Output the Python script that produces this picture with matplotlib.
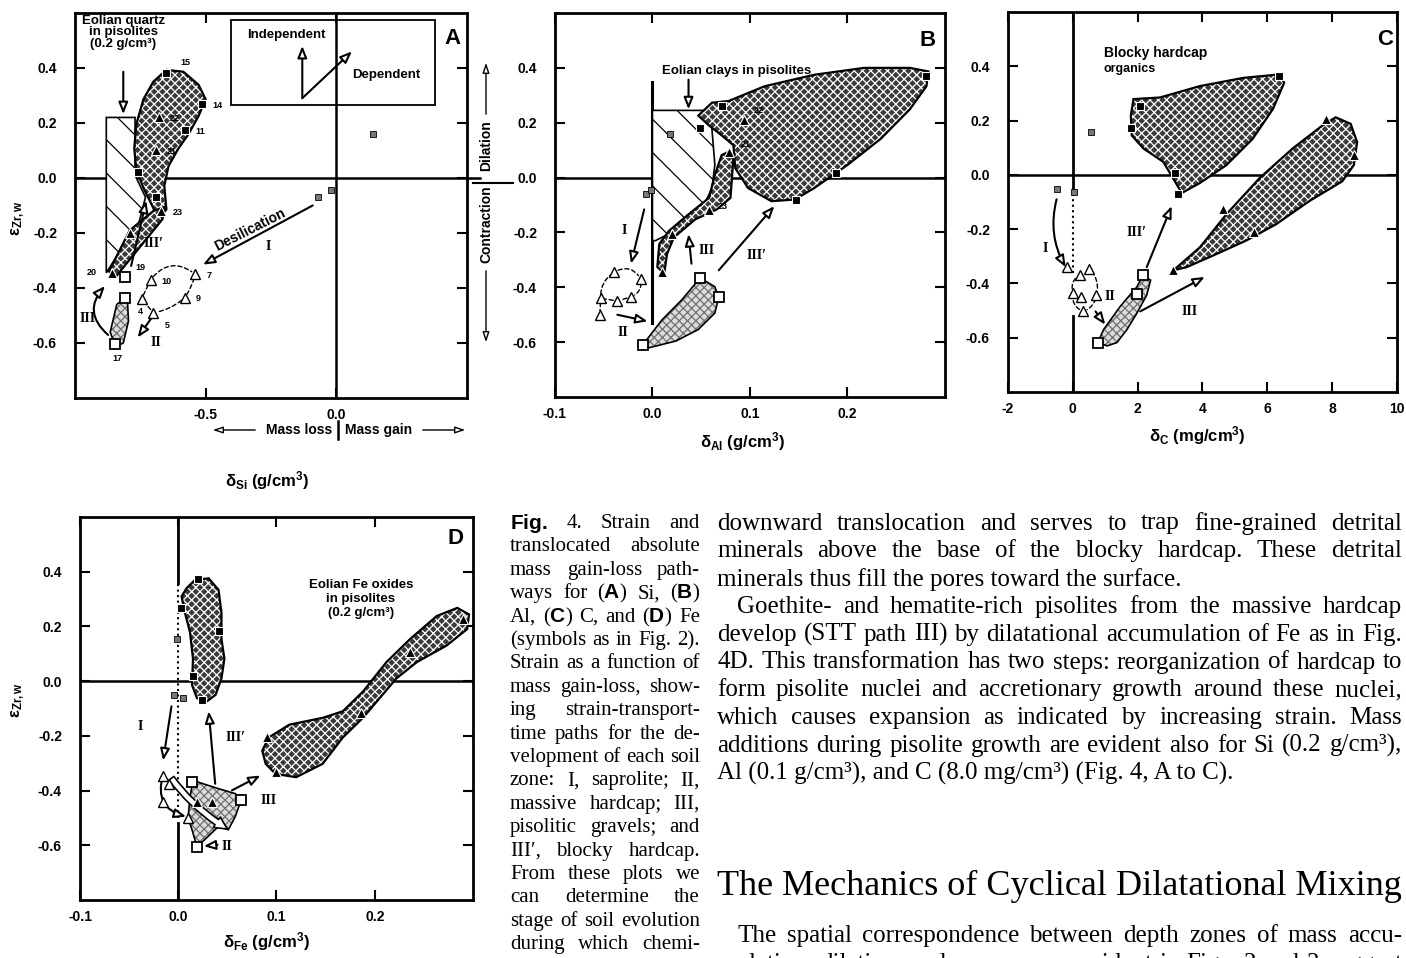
import matplotlib.pyplot as plt
from matplotlib.patches import Polygon, Rectangle

plt.rcParams['font.family'] = ['Liberation Sans', 'DejaVu Sans']
plt.rcParams['mathtext.fontset'] = 'custom'
plt.rcParams['mathtext.rm'] = 'Liberation Sans:bold'
plt.rcParams['mathtext.it'] = 'Liberation Sans:bold'
plt.rcParams['mathtext.bf'] = 'Liberation Sans:bold'
plt.rcParams['hatch.linewidth'] = 0.9

W, H = 1406, 958

# ---------------- panel A : Si ----------------
a_sqf_x = [-0.65, -0.515, -0.58, -0.76, -0.69]
a_sqf_y = [0.38, 0.27, 0.175, 0.02, -0.07]
a_sqf_lab = ['15', '14', '11', '', '']
a_sqs_x = [0.14, -0.07, -0.02]
a_sqs_y = [0.16, -0.07, -0.045]
a_trf_x = [-0.68, -0.69, -0.67, -0.79, -0.86]
a_trf_y = [0.22, 0.10, -0.12, -0.20, -0.345]
a_trf_lab = ['22', '21', '23', '', '20']
a_sqo_x = [-0.81, -0.81, -0.845]
a_sqo_y = [-0.36, -0.435, -0.605]
a_sqo_lab = ['19', '', '17']
a_tro_x = [-0.71, -0.54, -0.58, -0.70, -0.745]
a_tro_y = [-0.37, -0.35, -0.435, -0.49, -0.44]
a_tro_lab = ['10', '7', '9', '5', '4']

a_dark = [(-0.65, 0.393), (-0.585, 0.386), (-0.527, 0.339), (-0.50, 0.286), (-0.527, 0.225),
          (-0.565, 0.16), (-0.604, 0.107), (-0.642, 0.043), (-0.658, -0.029), (-0.65, -0.114),
          (-0.68, -0.15), (-0.71, -0.09), (-0.738, -0.036), (-0.765, 0.029), (-0.773, 0.107),
          (-0.765, 0.196), (-0.738, 0.286), (-0.70, 0.35)]
a_strip = [(-0.655, -0.105), (-0.665, -0.15), (-0.84, -0.355), (-0.87, -0.34), (-0.79, -0.19), (-0.70, -0.12)]
a_light = [(-0.80, -0.43), (-0.795, -0.52), (-0.815, -0.60), (-0.845, -0.615), (-0.865, -0.56), (-0.84, -0.46)]
a_hatch = [(-0.88, 0.22), (-0.77, 0.22), (-0.77, 0.01), (-0.73, -0.07), (-0.76, -0.18), (-0.85, -0.30), (-0.88, -0.345)]

# arrows: x0, y0, x1, y1, rad
a_arrows = [(-0.09, -0.10, -0.51, -0.315, 0), (-0.70, -0.50, -0.76, -0.58, 0),
            (-0.873, -0.571, -0.885, -0.393, -0.5), (-0.785, -0.32, -0.727, -0.083, 0),
            (-0.815, 0.386, -0.815, 0.232, 0), (-0.13, 0.29, -0.13, 0.48, 0), (-0.13, 0.29, 0.06, 0.46, 0)]
a_loop = [(-0.71, -0.37, -0.54, -0.35, -0.5), (-0.54, -0.35, -0.58, -0.435, -0.1),
          (-0.58, -0.435, -0.70, -0.49, -0.15), (-0.70, -0.49, -0.745, -0.44, 0), (-0.745, -0.44, -0.71, -0.37, 0)]

# ---------------- panel B : Al ----------------
b_sqf_x = [0.281, 0.071, 0.049, 0.188, 0.147]
b_sqf_y = [0.37, 0.26, 0.18, 0.016, -0.08]
b_sqs_x = [0.018, -0.007, -0.002]
b_sqs_y = [0.16, -0.06, -0.045]
b_trf_x = [0.094, 0.079, 0.058, 0.02, 0.01]
b_trf_y = [0.21, 0.094, -0.12, -0.205, -0.345]
b_trf_lab = ['22', '21', '23', '', '']
b_tro_x = [-0.039, -0.012, -0.053, -0.036, -0.022, -0.054]
b_tro_y = [-0.345, -0.37, -0.44, -0.45, -0.435, -0.50]
b_sqo_x = [0.049, 0.068, -0.01]
b_sqo_y = [-0.366, -0.436, -0.61]

b_hatch = [(0.0, 0.245), (0.076, 0.245), (0.060, 0.22), (0.064, 0.047), (0.061, -0.04),
           (0.048, -0.133), (0.017, -0.205), (0.003, -0.23), (0.0, -0.23)]
b_dark = [(0.078, 0.279), (0.115, 0.333), (0.166, 0.375), (0.217, 0.40), (0.264, 0.40), (0.283, 0.387),
          (0.281, 0.333), (0.264, 0.249), (0.234, 0.141), (0.200, 0.046), (0.166, -0.038), (0.146, -0.080),
          (0.122, -0.086), (0.098, -0.038), (0.085, 0.034), (0.083, 0.118), (0.071, 0.154), (0.058, 0.19),
          (0.047, 0.226), (0.061, 0.273)]
b_strip = [(0.078, 0.094), (0.083, 0.069), (0.080, -0.074), (0.066, -0.116), (0.044, -0.152), (0.022, -0.218),
           (0.015, -0.278), (0.012, -0.35), (0.005, -0.326), (0.007, -0.242), (0.017, -0.194), (0.037, -0.134),
           (0.058, -0.074), (0.064, 0.01), (0.071, 0.082)]
b_light = [(-0.010, -0.61), (0.010, -0.518), (0.030, -0.446), (0.049, -0.366), (0.064, -0.398), (0.068, -0.436),
           (0.064, -0.494), (0.047, -0.554), (0.024, -0.596), (-0.003, -0.62)]
b_arrows = [(-0.0085, -0.116, -0.022, -0.314, 0), (-0.036, -0.50, -0.005, -0.524, 0),
            (0.040, -0.314, 0.037, -0.206, 0), (0.068, -0.338, 0.125, -0.104, 0), (0.037, 0.357, 0.037, 0.249, 0)]
b_loop = [(-0.039, -0.345, -0.012, -0.37, -0.5), (-0.012, -0.37, -0.022, -0.435, -0.4),
          (-0.022, -0.435, -0.036, -0.45, 0), (-0.036, -0.45, -0.053, -0.44, 0),
          (-0.053, -0.44, -0.039, -0.345, -0.3), (-0.053, -0.44, -0.054, -0.50, 0)]

# ---------------- panel C : C ----------------
c_sqf_x = [6.37, 2.08, 1.79, 3.15, 3.25]
c_sqf_y = [0.364, 0.255, 0.172, 0.006, -0.07]
c_sqs_x = [0.57, -0.5, 0.03]
c_sqs_y = [0.157, -0.052, -0.063]
c_trf_x = [7.8, 8.67, 4.63, 5.6, 3.1]
c_trf_y = [0.206, 0.073, -0.127, -0.212, -0.352]
c_tro_x = [-0.19, 0.21, 0.49, 0.01, 0.24, 0.73, 0.32]
c_tro_y = [-0.34, -0.37, -0.345, -0.434, -0.449, -0.442, -0.503]
c_sqo_x = [2.16, 1.99, 0.77]
c_sqo_y = [-0.37, -0.44, -0.618]

c_dark1 = [(1.87, 0.279), (2.69, 0.285), (3.92, 0.327), (5.25, 0.357), (6.37, 0.370), (6.52, 0.339),
           (6.17, 0.242), (5.55, 0.133), (4.74, 0.036), (3.92, -0.03), (3.36, -0.067), (3.15, -0.024),
           (2.79, 0.048), (2.18, 0.097), (1.82, 0.145), (1.79, 0.218)]
c_dark2 = [(3.10, -0.352), (3.92, -0.267), (4.74, -0.145), (5.76, -0.012), (6.78, 0.097), (7.70, 0.182),
           (8.11, 0.212), (8.57, 0.188), (8.77, 0.121), (8.67, 0.036), (8.31, -0.024), (7.29, -0.097),
           (6.27, -0.182), (5.35, -0.242), (4.33, -0.297), (3.51, -0.34)]
c_light = [(0.77, -0.618), (0.95, -0.57), (1.46, -0.485), (1.98, -0.412), (2.16, -0.37), (2.40, -0.388),
           (2.28, -0.443), (1.98, -0.509), (1.67, -0.57), (1.36, -0.618), (1.06, -0.63)]
c_arrows = [(-0.5, -0.09, -0.22, -0.34, 0.2), (0.70, -0.503, 1.0, -0.552, 0),
            (2.08, -0.503, 4.07, -0.376, 0), (2.28, -0.34, 3.05, -0.115, 0)]
c_loop = [(0.49, -0.345, 0.73, -0.442, -0.3), (0.73, -0.442, 0.32, -0.503, -0.3),
          (0.32, -0.503, 0.01, -0.434, -0.4), (0.01, -0.434, 0.21, -0.37, -0.4)]

# ---------------- panel D : Fe ----------------
d_sqf_x = [0.020, 0.0024, 0.041, 0.015, 0.024]
d_sqf_y = [0.372, 0.268, 0.184, 0.019, -0.068]
d_sqs_x = [-0.001, -0.004, 0.005]
d_sqs_y = [0.154, -0.05, -0.062]
d_trf_x = [0.29, 0.236, 0.186, 0.0905, 0.099, 0.0188, 0.034]
d_trf_y = [0.226, 0.106, -0.116, -0.204, -0.333, -0.44, -0.44]
d_tro_x = [-0.0157, -0.009, -0.016, 0.010]
d_tro_y = [-0.345, -0.375, -0.44, -0.50]
d_sqo_x = [0.0137, 0.064, 0.0188]
d_sqo_y = [-0.369, -0.435, -0.605]

d_dark1 = [(0.0085, 0.340), (0.017, 0.370), (0.031, 0.376), (0.041, 0.334), (0.044, 0.250), (0.044, 0.154),
           (0.047, 0.082), (0.044, 0.010), (0.038, -0.050), (0.029, -0.074), (0.019, -0.062), (0.014, -0.014),
           (0.015, 0.082), (0.012, 0.178), (0.006, 0.262), (0.0034, 0.310)]
d_dark2 = [(0.0855, -0.254), (0.092, -0.206), (0.113, -0.159), (0.147, -0.134), (0.1675, -0.110),
           (0.188, -0.038), (0.212, 0.070), (0.236, 0.154), (0.263, 0.238), (0.284, 0.268), (0.296, 0.244),
           (0.294, 0.190), (0.273, 0.130), (0.243, 0.070), (0.222, 0.010), (0.205, -0.062), (0.188, -0.134),
           (0.1675, -0.206), (0.147, -0.302), (0.120, -0.351), (0.099, -0.339), (0.089, -0.302)]
d_light = [(0.015, -0.363), (0.041, -0.393), (0.058, -0.411), (0.064, -0.435), (0.058, -0.495), (0.051, -0.543),
           (0.041, -0.531), (0.027, -0.579), (0.019, -0.605), (0.014, -0.543), (0.010, -0.50), (0.012, -0.423)]
d_arrows = [(-0.0069, -0.092, -0.0154, -0.29, 0), (0.0376, -0.375, 0.031, -0.11, 0),
            (0.0547, -0.399, 0.0837, -0.345, 0), (0.040, -0.598, 0.026, -0.603, 0),
            (-0.0157, -0.345, 0.008, -0.495, 0.5)]

caption = ["$\\mathbf{Fig.}$ 4. Strain and", "translocated absolute", "mass gain-loss path-",
           "ways for ($\\mathbf{A}$) Si, ($\\mathbf{B}$)", "Al, ($\\mathbf{C}$) C, and ($\\mathbf{D}$) Fe",
           "(symbols as in Fig. 2).", "Strain as a function of", "mass gain-loss, show-",
           "ing strain-transport-", "time paths for the de-", "velopment of each soil",
           "zone: I, saprolite; II,", "massive hardcap; III,", "pisolitic gravels; and",
           "III\u2032, blocky hardcap.", "From these plots we", "can determine the",
           "stage of soil evolution", "during which chemi-"]
body1 = ["downward translocation and serves to trap fine-grained detrital",
         "minerals above the base of the blocky hardcap. These detrital",
         "minerals thus fill the pores toward the surface.",
         "Goethite- and hematite-rich pisolites from the massive hardcap",
         "develop (STT path III) by dilatational accumulation of Fe as in Fig.",
         "4D. This transformation has two steps: reorganization of hardcap to",
         "form pisolite nuclei and accretionary growth around these nuclei,",
         "which causes expansion as indicated by increasing strain. Mass",
         "additions during pisolite growth are evident also for Si (0.2 g/cm\u00b3),",
         "Al (0.1 g/cm\u00b3), and C (8.0 mg/cm\u00b3) (Fig. 4, A to C)."]
body1_just = [1, 1, 0, 1, 1, 1, 1, 1, 1, 0]
body1_indent = [0, 0, 0, 1, 0, 0, 0, 0, 0, 0]
heading = "The Mechanics of Cyclical Dilatational Mixing"
body2 = ["The spatial correspondence between depth zones of mass accu-",
         "mulation, dilation, and macropores evident in Figs. 2 and 3 suggest"]


fig = plt.figure(figsize=(W / 100, H / 100), dpi=100)
rend = fig.canvas.get_renderer()
SERIF = ['Liberation Serif', 'DejaVu Serif']


def px(x, y):
    return x / W, 1 - y / H


def setup(ax, xlim, xt, xtl):
    ax.set_xlim(xlim)
    ax.set_ylim(-0.8, 0.6)
    ax.set_xticks(xt)
    ax.set_xticklabels(xtl)
    ax.set_yticks([-0.6, -0.4, -0.2, 0.0, 0.2, 0.4])
    ax.set_yticklabels(['-0.6', '-0.4', '-0.2', '0.0', '0.2', '0.4'])
    ax.tick_params(direction='in', length=7, width=1.5, top=True, right=True, labelsize=10)
    ax.tick_params(axis='y', pad=13)
    ax.tick_params(axis='x', pad=7)
    for lab in ax.get_xticklabels() + ax.get_yticklabels():
        lab.set_fontweight('bold')
    for sp in ax.spines.values():
        sp.set_linewidth(2)
    ax.axhline(0, color='k', lw=1.8, zorder=1)


def shade(ax, xy, kind):
    if kind == 'dark':
        ax.add_patch(Polygon(xy, closed=True, fc='#3a3a3a', ec='white', hatch='xxxx', lw=0, zorder=2))
        ax.add_patch(Polygon(xy, closed=True, fill=False, ec='black', lw=1.6, zorder=2))
    elif kind == 'light':
        ax.add_patch(Polygon(xy, closed=True, fc='#dcdcdc', ec='#707070', hatch='xxxx', lw=0, zorder=2))
        ax.add_patch(Polygon(xy, closed=True, fill=False, ec='black', lw=1.2, zorder=2))
    else:
        ax.add_patch(Polygon(xy, closed=True, fc='white', ec='black', hatch='\\', lw=1.2, zorder=1.5))


def marks(ax, xs, ys, kind, labs=None, offs=None):
    st = {'sqf': dict(marker='s', mfc='black', mec='white', ms=6, mew=0.8),
          'sqs': dict(marker='s', mfc='#777777', mec='black', ms=4, mew=0.6),
          'trf': dict(marker='^', mfc='black', mec='white', ms=7, mew=0.8),
          'tro': dict(marker='^', mfc='white', mec='black', ms=6.5, mew=1.0),
          'sqo': dict(marker='s', mfc='white', mec='black', ms=6.5, mew=1.3)}[kind]
    ax.plot(xs, ys, ls='none', zorder=5, **st)
    if labs:
        for x, y, lab in zip(xs, ys, labs):
            if lab:
                off = (offs or {}).get(lab, (8, -1))
                ax.annotate(lab, (x, y), xytext=off, textcoords='offset points', fontsize=6.5,
                            fontweight='bold', ha='left', va='center', zorder=6)


def arrows(ax, lst, lw=1.5):
    for x0, y0, x1, y1, rad in lst:
        ax.annotate('', xy=(x1, y1), xytext=(x0, y0),
                    arrowprops=dict(arrowstyle='-|>,head_length=0.7,head_width=0.28', fc='white', ec='black',
                                    lw=lw, shrinkA=0, shrinkB=0, connectionstyle='arc3,rad=%s' % rad),
                    zorder=4)


def loop(ax, lst):
    for x0, y0, x1, y1, rad in lst:
        ax.annotate('', xy=(x1, y1), xytext=(x0, y0),
                    arrowprops=dict(arrowstyle='-', ec='black', lw=1.0, ls=(0, (3, 2)), shrinkA=3, shrinkB=3,
                                    connectionstyle='arc3,rad=%s' % rad), zorder=4)


def roman(ax, x, y, s):
    ax.text(x, y, s, family=SERIF, fontweight='bold', fontsize=10, ha='center', va='center', zorder=6)


# ---------- A ----------
ax = fig.add_axes([0.0533, 0.5846, 0.2788, 0.4019])
setup(ax, (-1.0, 0.5), [-0.5, 0.0], ['-0.5', '0.0'])
ax.axvline(0, color='k', lw=1.8, zorder=1)
shade(ax, a_hatch, 'hatch')
shade(ax, a_dark, 'dark')
shade(ax, a_strip, 'dark')
shade(ax, a_light, 'light')
loop(ax, a_loop)
arrows(ax, a_arrows)
marks(ax, a_sqf_x, a_sqf_y, 'sqf', a_sqf_lab, {'15': (10, 8)})
marks(ax, a_sqs_x, a_sqs_y, 'sqs')
marks(ax, a_trf_x, a_trf_y, 'trf', a_trf_lab, {'20': (-18, 0)})
marks(ax, a_sqo_x, a_sqo_y, 'sqo', a_sqo_lab, {'19': (8, 7), '17': (-2, -10)})
marks(ax, a_tro_x, a_tro_y, 'tro', a_tro_lab, {'5': (8, -9), '4': (-3, -9)})
ax.add_patch(Rectangle((-0.404, 0.264), 0.781, 0.311, fill=False, ec='black', lw=1.3, zorder=3))
ax.text(-0.19, 0.518, 'Independent', fontsize=9.5, fontweight='bold', ha='center', va='center')
ax.text(0.19, 0.375, 'Dependent', fontsize=9.5, fontweight='bold', ha='center', va='center')
ax.text(-0.815, 0.53, 'Eolian quartz\nin pisolites\n(0.2 g/cm\u00b3)', fontsize=9.5, fontweight='bold',
        ha='center', va='center', linespacing=0.95)
ax.text(-0.33, -0.19, 'Desilication', fontsize=10, fontweight='bold', rotation=27, ha='center', va='center')
roman(ax, -0.26, -0.25, 'I')
roman(ax, -0.69, -0.60, 'II')
roman(ax, -0.95, -0.51, 'III')
roman(ax, -0.70, -0.24, 'III\u2032')
ax.text(0.446, 0.507, 'A', fontsize=16, fontweight='bold', ha='center', va='center')
ax.plot([0.5, 0.55], [0, 0], color='k', lw=1.8, clip_on=False)

fig.text(*px(18, 218), 'ε$_{Zr,w}$', rotation=90, fontsize=12, fontweight='bold', ha='center', va='center')
fig.text(*px(267, 481), 'δ$_{Si}$ (g/cm$^{3}$)', fontsize=12, fontweight='bold', ha='center', va='center')
fig.text(*px(332, 430), 'Mass loss', fontsize=10, fontweight='bold', ha='right', va='center')
fig.text(*px(345, 430), 'Mass gain', fontsize=10, fontweight='bold', ha='left', va='center')
fig.add_artist(plt.Line2D([338 / W, 338 / W], [1 - 421 / H, 1 - 439 / H], color='k', lw=1.8))
for xa, xb in [(258, 210), (420, 468)]:
    ax.annotate('', xy=px(xb, 430), xytext=px(xa, 430), xycoords='figure fraction',
                arrowprops=dict(arrowstyle='-|>,head_length=0.6,head_width=0.2', fc='white', ec='black', lw=1))

# ---------- B ----------
ax = fig.add_axes([0.3947, 0.5856, 0.2774, 0.4008])
setup(ax, (-0.1, 0.3), [-0.1, 0.0, 0.1, 0.2], ['-0.1', '0.0', '0.1', '0.2'])
ax.plot([0, 0], [-0.53, 0.35], color='k', lw=2.2, zorder=1)
shade(ax, b_hatch, 'hatch')
shade(ax, b_dark, 'dark')
shade(ax, b_strip, 'dark')
shade(ax, b_light, 'light')
loop(ax, b_loop)
arrows(ax, b_arrows)
marks(ax, b_sqf_x, b_sqf_y, 'sqf')
marks(ax, b_sqs_x, b_sqs_y, 'sqs')
marks(ax, b_trf_x, b_trf_y, 'trf', b_trf_lab, {'22': (7, 7), '21': (8, 5), '23': (6, 3)})
marks(ax, b_tro_x, b_tro_y, 'tro')
marks(ax, b_sqo_x, b_sqo_y, 'sqo')
ax.text(0.086, 0.39, 'Eolian clays in pisolites', fontsize=9.5, fontweight='bold', ha='center', va='center')
roman(ax, -0.029, -0.194, 'I')
roman(ax, -0.030, -0.566, 'II')
roman(ax, 0.056, -0.266, 'III')
roman(ax, 0.107, -0.284, 'III\u2032')
ax.text(0.282, 0.50, 'B', fontsize=16, fontweight='bold', ha='center', va='center')
fig.text(*px(743, 442), 'δ$_{Al}$ (g/cm$^{3}$)', fontsize=12, fontweight='bold', ha='center', va='center')
fig.text(*px(486, 146), 'Dilation', rotation=90, fontsize=10, fontweight='bold', ha='center', va='center')
fig.text(*px(486, 224), 'Contraction', rotation=90, fontsize=10, fontweight='bold', ha='center', va='center')
fig.add_artist(plt.Line2D([473 / W, 513 / W], [1 - 183 / H, 1 - 183 / H], color='k', lw=1.5))
for ya, yb in [(117, 60), (268, 345)]:
    ax.annotate('', xy=px(486, yb), xytext=px(486, ya), xycoords='figure fraction',
                arrowprops=dict(arrowstyle='-|>,head_length=0.6,head_width=0.2', fc='white', ec='black', lw=1))

# ---------- C ----------
ax = fig.add_axes([0.7169, 0.5908, 0.2767, 0.3967])
setup(ax, (-2, 10), [-2, 0, 2, 4, 6, 8, 10], ['-2', '0', '2', '4', '6', '8', '10'])
ax.plot([0, 0], [-0.05, 0.6], color='k', lw=2.0, zorder=1)
ax.plot([0, 0], [-0.36, -0.05], color='k', lw=1.5, ls=':', zorder=1)
ax.plot([0, 0], [-0.8, -0.52], color='k', lw=2.0, zorder=1)
shade(ax, c_dark1, 'dark')
shade(ax, c_dark2, 'dark')
shade(ax, c_light, 'light')
loop(ax, c_loop)
arrows(ax, c_arrows)
marks(ax, c_sqf_x, c_sqf_y, 'sqf')
marks(ax, c_sqs_x, c_sqs_y, 'sqs')
marks(ax, c_trf_x, c_trf_y, 'trf')
marks(ax, c_tro_x, c_tro_y, 'tro')
marks(ax, c_sqo_x, c_sqo_y, 'sqo')
ax.text(0.95, 0.45, 'Blocky hardcap', fontsize=10, fontweight='bold', ha='left', va='center')
ax.text(0.95, 0.39, 'organics', fontsize=9, fontweight='bold', ha='left', va='center')
roman(ax, -0.84, -0.273, 'I')
roman(ax, 1.16, -0.449, 'II')
roman(ax, 3.61, -0.503, 'III')
roman(ax, 1.98, -0.212, 'III\u2032')
ax.text(9.64, 0.497, 'C', fontsize=16, fontweight='bold', ha='center', va='center')
fig.text(*px(1197, 436), 'δ$_{C}$ (mg/cm$^{3}$)', fontsize=12, fontweight='bold', ha='center', va='center')

# ---------- D ----------
ax = fig.add_axes([0.0569, 0.0605, 0.2795, 0.3998])
setup(ax, (-0.1, 0.3), [-0.1, 0.0, 0.1, 0.2], ['-0.1', '0.0', '0.1', '0.2'])
ax.plot([0, 0], [0.36, 0.6], color='k', lw=2.0, zorder=1)
ax.plot([0, 0], [-0.5, 0.36], color='k', lw=1.5, ls=':', zorder=1)
ax.plot([0, 0], [-0.8, -0.52], color='k', lw=2.0, zorder=1)
shade(ax, d_dark1, 'dark')
shade(ax, d_dark2, 'dark')
shade(ax, d_light, 'light')
ax.annotate('', xy=(0.05, -0.54), xytext=(-0.007, -0.355),
            arrowprops=dict(arrowstyle='simple,head_length=0.9,head_width=0.9,tail_width=0.45', fc='white',
                            ec='black', lw=1.2, shrinkA=0, shrinkB=0, connectionstyle='arc3,rad=0.1'), zorder=4)
arrows(ax, d_arrows)
marks(ax, d_sqf_x, d_sqf_y, 'sqf')
marks(ax, d_sqs_x, d_sqs_y, 'sqs')
marks(ax, d_trf_x, d_trf_y, 'trf')
marks(ax, d_tro_x, d_tro_y, 'tro')
marks(ax, d_sqo_x, d_sqo_y, 'sqo')
ax.text(0.186, 0.30, 'Eolian Fe oxides\nin pisolites\n(0.2 g/cm\u00b3)', fontsize=9.5, fontweight='bold',
        ha='center', va='center', linespacing=1.2)
roman(ax, -0.039, -0.164, 'I')
roman(ax, 0.058, -0.206, 'III\u2032')
roman(ax, 0.092, -0.435, 'III')
roman(ax, 0.050, -0.603, 'II')
ax.text(0.282, 0.52, 'D', fontsize=16, fontweight='bold', ha='center', va='center')
fig.text(*px(18, 700), 'ε$_{Zr,w}$', rotation=90, fontsize=12, fontweight='bold', ha='center', va='center')
fig.text(*px(267, 942), 'δ$_{Fe}$ (g/cm$^{3}$)', fontsize=12, fontweight='bold', ha='center', va='center')


# ---------- text columns ----------
def put_line(x0, x1, y, line, size, just):
    if not just:
        fig.text(*px(x0, y), line, family=SERIF, fontsize=size, va='center', ha='left')
        return
    words = line.split()
    ts = [fig.text(*px(0, y), w, family=SERIF, fontsize=size, va='center', ha='left') for w in words]
    ws = [t.get_window_extent(rend).width for t in ts]
    gap = (x1 - x0 - sum(ws)) / max(len(words) - 1, 1)
    x = x0
    for t, w in zip(ts, ws):
        t.set_x(x / W)
        x += w + gap


for i, line in enumerate(caption):
    put_line(510, 700, 523.5 + 23.4 * i, line, 15, True)

for i, line in enumerate(body1):
    put_line(717 + 20 * body1_indent[i], 1402, 523.5 + 27.8 * i, line, 18, body1_just[i])
fig.text(*px(717, 886), heading, family=SERIF, fontsize=26, va='center', ha='left')
for i, line in enumerate(body2):
    put_line(737 - 20 * i, 1402, 936 + 27.8 * i, line, 18, True)

fig.savefig('out.png', dpi=100)
